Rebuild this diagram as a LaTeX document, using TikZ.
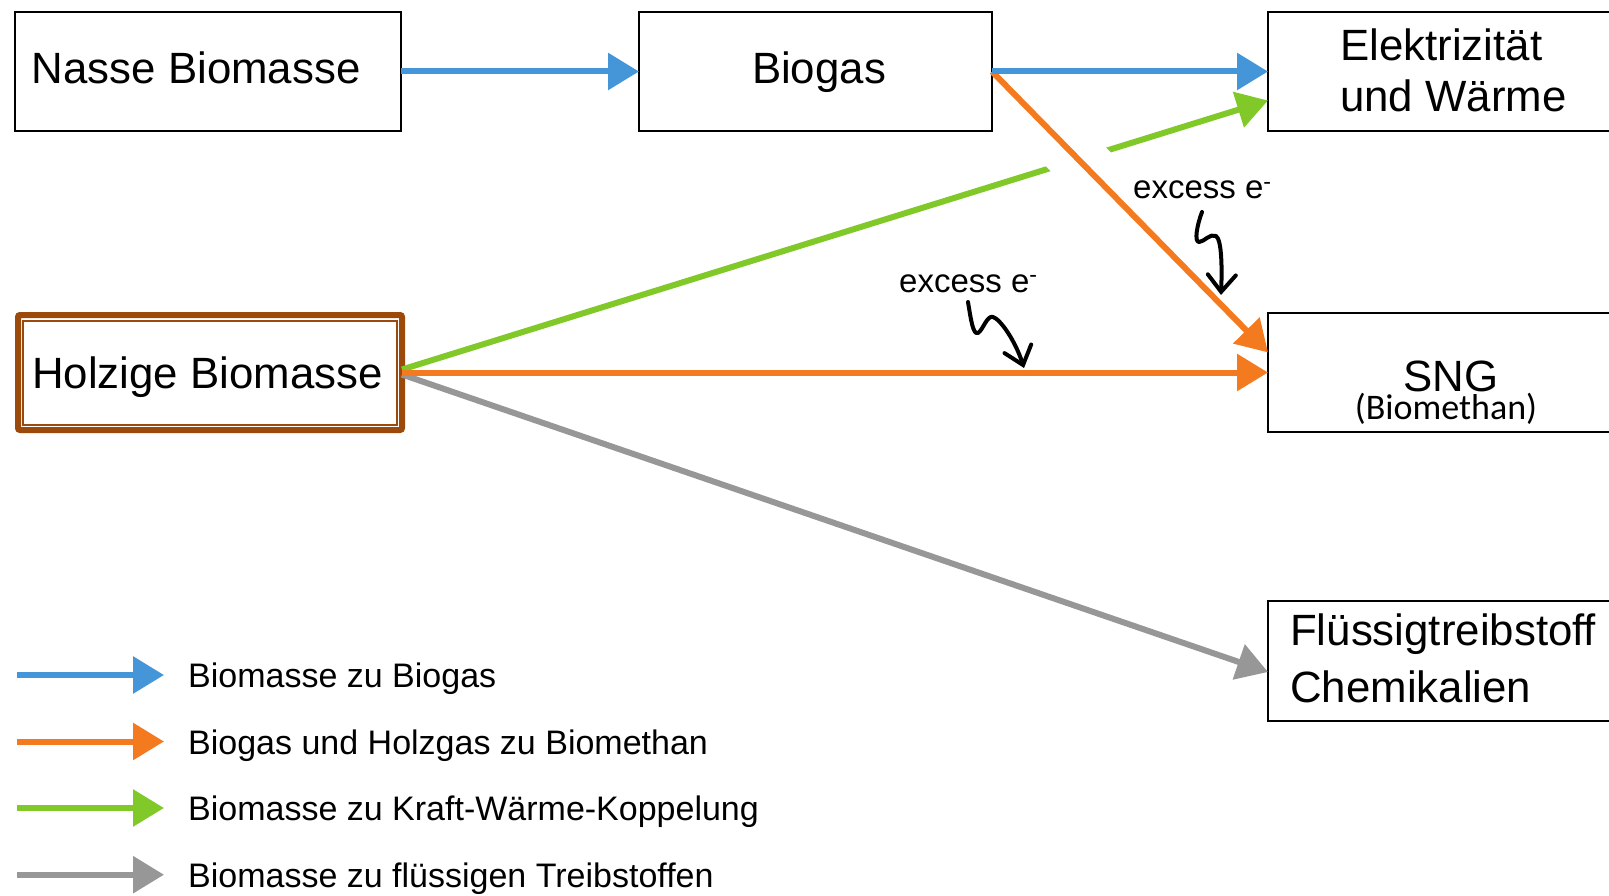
\documentclass[tikz,border=0pt]{standalone}
\usepackage{fontspec}
\setmainfont{Liberation Sans}
\newfontfamily\carl{Carlito}
\usetikzlibrary{arrows.meta}
\definecolor{cblue}{HTML}{4596D8}
\definecolor{corange}{HTML}{F47A20}
\definecolor{cgreen}{HTML}{80C929}
\definecolor{cgray}{HTML}{979797}
\definecolor{cbrown}{HTML}{9C4A0C}
\begin{document}
\begin{tikzpicture}[x=1pt,y=-1pt,
  box/.style={draw=black, line width=2pt, fill=white, inner sep=0pt, outer sep=0pt, anchor=north west},
  flow/.style={line width=6pt, -{Triangle[length=31pt,width=36pt]}},
  squig/.style={line width=4pt, line cap=round, line join=round, -{Straight Barb[length=17pt,width=28pt,line cap=round]}},
  txt/.style={inner sep=0pt, font=\fontsize{43.8}{51}\selectfont},
  leg/.style={inner sep=0pt, anchor=base west, font=\fontsize{34}{40}\selectfont},
  exc/.style={inner sep=0pt, anchor=base west, font=\fontsize{33}{40}\selectfont}]
\useasboundingbox (0,0) rectangle (1609,896);
\fill[white] (0,0) rectangle (1609,896);
\clip (0,0) rectangle (1609,896);

% boxes
\node[box, minimum width=386pt, minimum height=119pt] (nasse) at (15,12) {};
\node[box, minimum width=353pt, minimum height=119pt] (biogas) at (639,12) {};
\node[box, minimum width=400pt, minimum height=119pt] (elek) at (1268,12) {};
\node[box, minimum width=400pt, minimum height=119pt] (sng) at (1268,313) {};
\node[box, minimum width=400pt, minimum height=120pt] (flu) at (1268,601) {};
\node[draw=cbrown, line width=6pt, fill=white, rounded corners=2pt, inner sep=0pt, outer sep=0pt,
      anchor=north west, minimum width=384pt, minimum height=115pt] (holz) at (18,315) {};
\draw[cbrown, line width=1.5pt] ([shift={(5pt,-6pt)}]holz.north west) rectangle ([shift={(-5pt,5pt)}]holz.south east);

% box texts
\node[txt, anchor=base west] (tnasse) at (31.7,84) {Nasse Biomasse};
\node[txt, anchor=base] (tbiogas) at (819,84) {Biogas};
\node[txt, anchor=base] (tholz) at (207.5,388) {Holzige Biomasse};
\node[txt, anchor=base west] (telek1) at (1340,61) {Elektrizität};
\node[txt, anchor=base west] (telek2) at (1340,112) {und Wärme};
\node[txt, anchor=base] (tsng) at (1451,391) {SNG};
\node[inner sep=0pt, anchor=base, font=\carl\fontsize{36}{40}\selectfont] (tsng2) at (1446,419) {(Biomethan)};
\node[txt, anchor=base west] (tflu1) at (1290,645) {Flüssigtreibstoff};
\node[txt, anchor=base west] (tflu2) at (1290,702) {Chemikalien};

% flows
\draw[flow, cgreen] ([yshift=3pt]holz.east) -- ([yshift=-29pt]elek.west);
\draw[flow, cgray] ([yshift=-2pt]holz.east) -- ([yshift=-11pt]flu.west);
\path (biogas.east) -- ([yshift=20pt]sng.west) coordinate[pos=0.22] (w1) coordinate[pos=0.40] (w2);
\draw[white, line width=56pt] (w1) -- (w2);
\draw[flow, corange] (biogas.east) -- ([yshift=20pt]sng.west);
\draw[flow, corange] (holz.east) -- (sng.west);
\draw[flow, cblue] (nasse.east) -- (biogas.west);
\draw[flow, cblue] (biogas.east) -- (elek.west);

% excess electrons
\node[exc] (ex1) at (899,292) {excess e\textsuperscript{-}};
\node[exc] (ex2) at (1133,199) {excess e\textsuperscript{-}};
\coordinate (s1a) at (968,302);
\coordinate (s1b) at (1024,368);
\draw[squig] (s1a) .. controls (971,320) and (973,335) .. (978,333)
  .. controls (983,330) and (987,315) .. (993,317)
  .. controls (1000,319) and (1015,340) .. (s1b);
\coordinate (s2a) at (1202,212);
\coordinate (s2b) at (1221,295);
\draw[squig] (s2a) .. controls (1197,225) and (1194,242) .. (1199,242)
  .. controls (1204,242) and (1210,233) .. (1216,236)
  .. controls (1222,240) and (1222,270) .. (s2b);

% legend
\coordinate (la1) at (17,675);   \coordinate (lb1) at (164,675);
\coordinate (la2) at (17,741.5); \coordinate (lb2) at (164,741.5);
\coordinate (la3) at (17,808);   \coordinate (lb3) at (164,808);
\coordinate (la4) at (17,874.7); \coordinate (lb4) at (164,874.7);
\draw[flow, cblue] (la1) -- (lb1);
\draw[flow, corange] (la2) -- (lb2);
\draw[flow, cgreen] (la3) -- (lb3);
\draw[flow, cgray] (la4) -- (lb4);
\node[leg] (l1) at (188,687.5) {Biomasse zu Biogas};
\node[leg] (l2) at (188,754) {Biogas und Holzgas zu Biomethan};
\node[leg] (l3) at (188,820.5) {Biomasse zu Kraft-Wärme-Koppelung};
\node[leg] (l4) at (188,887.2) {Biomasse zu flüssigen Treibstoffen};
\end{tikzpicture}
\end{document}
